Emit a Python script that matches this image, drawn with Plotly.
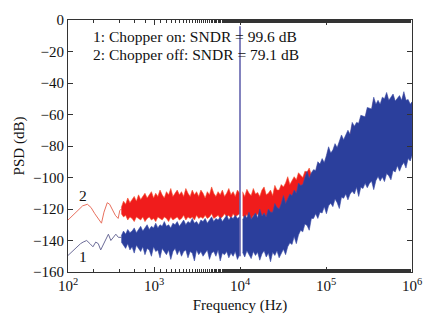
import plotly.graph_objects as go

# ---------------- data ----------------
# low-frequency part (single visible trace)
lf_freq_off = [100, 115, 130, 148, 168, 185, 205, 225, 245, 262, 286, 305, 330, 355, 383, 400, 417]
lf_psd_off = [-127, -124, -121, -118, -117, -119, -123, -126, -129, -122, -116, -117, -121, -124, -126, -121, -120]

lf_freq_on = [100, 112, 125, 140, 150, 165, 180, 195, 210, 225, 240, 255, 275, 295, 315, 335, 360, 385, 417]
lf_psd_on = [-149.5, -147, -144, -142, -141, -140, -142, -144, -141, -142, -146, -143, -139, -136, -140, -138, -136, -138, -138]

# dense noise band below the tone (upper / lower envelope of the noisy trace)
band_freq_a = [417, 442, 468, 495, 525, 556, 589, 624, 661, 700,
               741, 785, 832, 881, 933, 989, 1047, 1109, 1175, 1245,
               1318, 1396, 1479, 1567, 1660, 1758, 1862, 1972, 2089, 2213,
               2344, 2483, 2630, 2786, 2951, 3126, 3311, 3508, 3715, 3936,
               4169, 4416, 4677, 4955, 5248, 5559, 5888, 6237, 6607, 6998,
               7413, 7852, 8318, 8810, 9333, 9886]
off_hi_a = [-119, -115, -117, -113, -116, -114, -112, -115, -111, -114,
            -112, -110, -113, -111, -109, -113, -110, -112, -108, -111,
            -113, -109, -111, -107, -112, -110, -108, -111, -109, -112,
            -107, -110, -112, -108, -111, -109, -112, -108, -110, -113,
            -109, -111, -106, -110, -112, -109, -111, -108, -112, -110,
            -107, -111, -109, -112, -108, -110]
off_lo_a = [-123, -125, -124, -127, -125, -126, -128, -125, -126, -127,
            -125, -128, -126, -125, -127, -126, -128, -125, -126, -127,
            -125, -126, -128, -125, -127, -126, -125, -127, -126, -124,
            -127, -125, -126, -125, -127, -124, -126, -125, -126, -124,
            -126, -125, -123, -126, -125, -124, -126, -125, -123, -125,
            -124, -126, -123, -125, -124, -123]
on_hi_a = [-137, -134, -136, -133, -135, -134, -132, -135, -133, -131,
           -134, -132, -130, -133, -131, -132, -129, -132, -130, -131,
           -128, -131, -130, -132, -129, -130, -128, -131, -129, -127,
           -130, -128, -129, -126, -129, -128, -130, -127, -128, -126,
           -129, -127, -125, -128, -126, -127, -125, -128, -126, -124,
           -127, -125, -126, -124, -126, -125]
on_lo_a = [-141, -143, -145, -142, -146, -144, -148, -143, -145, -147,
           -144, -149, -145, -146, -150, -144, -147, -146, -151, -145,
           -147, -149, -146, -152, -147, -145, -149, -146, -150, -147,
           -146, -151, -147, -148, -153, -146, -149, -147, -150, -148,
           -146, -152, -148, -147, -150, -146, -153, -148, -149, -147,
           -151, -148, -150, -147, -152, -149]

# dense noise band above the tone
band_freq_b = [10715, 11350, 12023, 12735, 13490, 14289, 15136, 16032, 16982, 17989,
               19055, 20184, 21380, 22646, 23988, 25410, 26915, 28510, 30200, 31989,
               33884, 35892, 38019, 40272, 42658, 45186, 47863, 50699, 53703, 56885,
               60256, 63826, 67608, 71614, 75858, 80353, 85114, 90157, 95499, 101158,
               107152, 113501, 120226, 127350, 134896, 142889, 151356, 160325, 169824, 179887,
               190546, 201837, 213796, 226464, 239883, 254097, 269153, 285102, 301995, 319890,
               338844, 358922, 380189, 402717, 426580, 451856, 478630, 506991, 537032, 568853,
               602560, 638263, 676083, 716143, 758578, 803526, 851138, 901571, 954993, 1000000]
off_hi_b = [-109, -112, -107.5, -110, -111.5, -107, -110.5, -109.5, -112, -108,
            -106, -111, -110, -108, -111.5, -105, -108, -108, -104.5, -106,
            -103.5, -99.5, -104.5, -102, -99.5, -101.5, -97, -98.5, -100, -96,
            -96.5, -94, -98.5, -96.5, -97, -91.5, -93, -89.5, -92, -87.5,
            -82, -86, -84, -80, -82.5, -78.5, -74.5, -77.5, -74.5, -71.5,
            -74, -66.5, -69, -66.5, -67, -62, -62.5, -63, -57, -57.5,
            -58, -50.5, -55, -52.5, -55, -50.5, -51.5, -47.5, -52.5, -50.5,
            -48.5, -53, -51, -49.5, -52.5, -47, -52.5, -52, -55, -53.5]
off_lo_b = [-124, -126, -123.5, -125, -127, -124, -125.5, -123, -126, -124.5,
            -123, -125.5, -124, -125, -125, -119.5, -122, -123, -119.5, -114.5,
            -119.5, -116.5, -113.5, -114.5, -111, -113, -106.5, -108, -107.5, -103,
            -99, -103.5, -100, -98, -98.5, -93, -94.5, -91, -93.5, -89,
            -83.5, -87.5, -85.5, -81.5, -84, -80, -76, -79, -76, -73,
            -75.5, -68, -70.5, -68, -68.5, -63.5, -64, -64.5, -58.5, -59,
            -59.5, -52, -56.5, -54, -56.5, -52, -53, -49, -54, -52,
            -50, -54.5, -52.5, -51, -54, -48.5, -54, -53.5, -56.5, -55]
on_hi_b = [-127, -124, -125.5, -122, -126.5, -124.5, -122.5, -125.5, -120, -124.5,
           -122.5, -125, -120, -122, -122, -116.5, -119, -120, -116.5, -111.5,
           -116.5, -113.5, -110.5, -111.5, -108, -110, -103.5, -105, -104.5, -100,
           -96, -100.5, -97, -95, -95.5, -90, -91.5, -88, -90.5, -86,
           -80.5, -84.5, -82.5, -78.5, -81, -77, -73, -76, -73, -70,
           -72.5, -65, -67.5, -65, -65.5, -60.5, -61, -61.5, -55.5, -56,
           -56.5, -49, -53.5, -51, -53.5, -49, -50, -46, -51, -49,
           -47, -51.5, -49.5, -48, -51, -45.5, -51, -50.5, -53.5, -52]
on_lo_b = [-147.5, -150.5, -146.5, -149, -151.5, -147, -149.5, -147.5, -152.5, -148.5,
           -146.5, -150.5, -148, -153.5, -147.5, -149.5, -146.5, -151, -148, -145.5,
           -149, -144, -141.5, -142.5, -137.5, -142, -136.5, -133.5, -134.5, -129.5,
           -130.5, -133.5, -126, -126, -123, -126, -122, -122.5, -118.5, -123,
           -118, -116.3, -118.5, -113.7, -116, -119.7, -112.5, -113.2, -110.5, -114.2,
           -110.5, -108.7, -110.5, -106.2, -112, -106.2, -107, -103.7, -106.5, -103.8,
           -102.3, -107.7, -102, -99.4, -102.3, -99.7, -102.6, -97.5, -98.9, -101.5,
           -95.5, -96.5, -92.5, -96, -92.5, -90.5, -94, -88, -89.5, -86]

tone_freq = 10000
tone_level = -4
tone_floor = -150

x_tick_vals = [100, 1000, 10000, 100000, 1000000]
x_tick_text = ["10<sup>2</sup>", "10<sup>3</sup>", "10<sup>4</sup>", "10<sup>5</sup>", "10<sup>6</sup>"]
y_tick_vals = [0, -20, -40, -60, -80, -100, -120, -140, -160]
y_tick_text = ["0", "\u221220", "\u221240", "\u221260", "\u221280", "\u2212100", "\u2212120", "\u2212140", "\u2212160"]

label_on = "1: Chopper on: SNDR = 99.6 dB"
label_off = "2: Chopper off: SNDR = 79.1 dB"

# ---------------- figure ----------------
RED = "#f01c1c"
RED_EDGE = "#f4502e"
BLUE = "#2b3f9c"
BLUE_EDGE = "#3a4ca6"
FONT = "Liberation Serif"

fig = go.Figure()


def band(freqs, hi, lo, fill, edge):
    fig.add_trace(go.Scatter(
        x=list(freqs) + list(freqs)[::-1],
        y=list(hi) + list(lo)[::-1],
        mode="lines", fill="toself", fillcolor=fill,
        line=dict(color=edge, width=0.6), hoverinfo="skip", showlegend=False))


# chopper off (red) underneath
fig.add_trace(go.Scatter(x=lf_freq_off, y=lf_psd_off, mode="lines",
                         line=dict(color="#e8705e", width=1), showlegend=False))
band(band_freq_a, off_hi_a, off_lo_a, RED, RED_EDGE)
band(band_freq_b, off_hi_b, off_lo_b, RED, RED_EDGE)

# chopper on (blue) on top
fig.add_trace(go.Scatter(x=lf_freq_on, y=lf_psd_on, mode="lines",
                         line=dict(color="#6c6c98", width=1), showlegend=False))
band(band_freq_a, on_hi_a, on_lo_a, BLUE, BLUE_EDGE)
band(band_freq_b, on_hi_b, on_lo_b, BLUE, BLUE_EDGE)

# input tone
fig.add_trace(go.Scatter(x=[tone_freq, tone_freq], y=[tone_floor, tone_level], mode="lines",
                         line=dict(color="#5a5aa8", width=1.5), showlegend=False))

axis_common = dict(showline=True, linecolor="#333", linewidth=1, mirror="ticks",
                   ticks="inside", tickcolor="#333", showgrid=False, zeroline=False,
                   tickfont=dict(family=FONT, size=15, color="#111"))

fig.update_xaxes(type="log", range=[2, 6], tickvals=x_tick_vals, ticktext=x_tick_text, ticklen=5,
                 minor=dict(ticks="inside", ticklen=3, tickcolor="#333", showgrid=False),
                 title=dict(text="Frequency (Hz)", font=dict(family=FONT, size=15, color="#111"), standoff=6),
                 **axis_common)
fig.update_yaxes(range=[-160, 0], tickvals=y_tick_vals, ticktext=y_tick_text, ticklen=5,
                 title=dict(text="PSD (dB)", font=dict(family=FONT, size=15, color="#111"), standoff=4),
                 **axis_common)

ann_font = dict(family=FONT, size=15.5, color="#111")
fig.add_annotation(x=2.27, y=-10.5, xref="x", yref="y", text=label_on, showarrow=False,
                   xanchor="left", yanchor="middle", font=ann_font)
fig.add_annotation(x=2.27, y=-22, xref="x", yref="y", text=label_off, showarrow=False,
                   xanchor="left", yanchor="middle", font=ann_font)
fig.add_annotation(x=2.17, y=-111.5, xref="x", yref="y", text="2", showarrow=False,
                   xanchor="center", yanchor="middle", font=ann_font)
fig.add_annotation(x=2.18, y=-150, xref="x", yref="y", text="1", showarrow=False,
                   xanchor="center", yanchor="middle", font=ann_font)

fig.update_layout(width=434, height=323, margin=dict(l=68, r=15, t=14, b=51),
                  paper_bgcolor="white", plot_bgcolor="white", showlegend=False)

fig.write_html("out.html")
